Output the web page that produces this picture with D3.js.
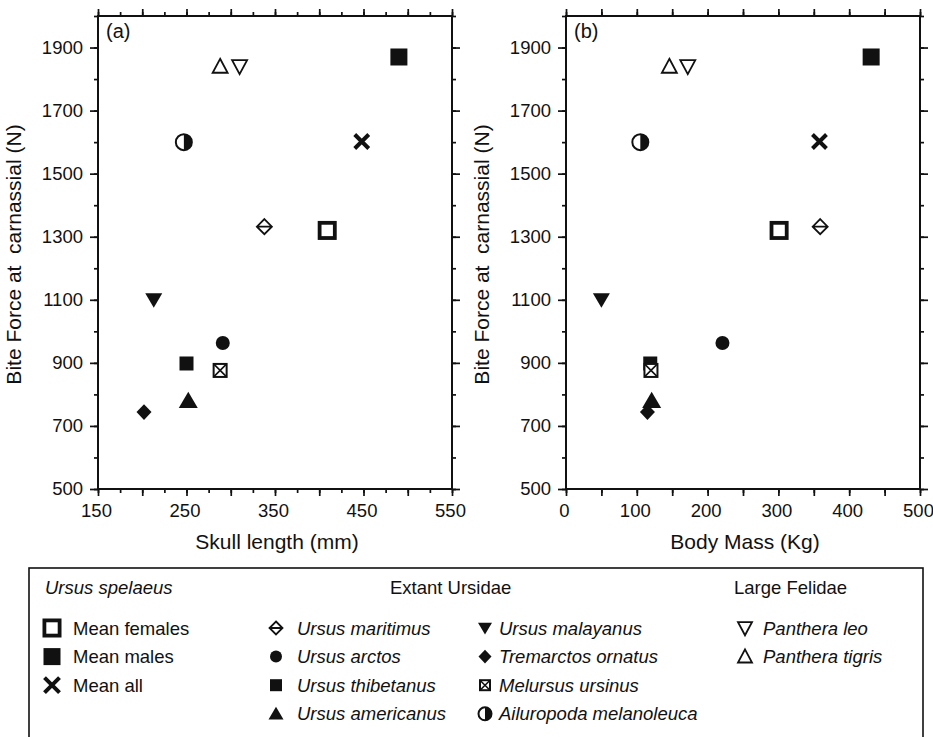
<!DOCTYPE html>
<html>
<head>
<meta charset="utf-8">
<script src="https://cdn.jsdelivr.net/npm/d3@7"></script>
<style>
  body { margin: 0; background: #fff; }
  svg { font-family: "Liberation Sans", Arial, sans-serif; }
</style>
</head>
<body>
<svg width="933" height="737"></svg>
<script>
// data
const species = ['Mean females', 'Mean males', 'Mean all',
  'Ursus maritimus', 'Ursus arctos', 'Ursus thibetanus', 'Ursus americanus',
  'Ursus malayanus', 'Tremarctos ornatus', 'Melursus ursinus', 'Ailuropoda melanoleuca',
  'Panthera leo', 'Panthera tigris'];
const skullLength = [409, 490, 448, 338, 291, 250, 252, 213, 202, 288, 247, 310, 288];
const bodyMass = [301, 431, 358, 359, 221, 119, 121, 50, 115, 120, 105, 172, 146];
const biteForce = [1320, 1870, 1602, 1332, 963, 898, 780, 1100, 744, 876, 1600, 1840, 1840];

const yTickLabels = [500, 700, 900, 1100, 1300, 1500, 1700, 1900];
const skullTickLabels = [150, 250, 350, 450, 550];
const massTickLabels = [0, 100, 200, 300, 400, 500];

const legendHeaders = ['Ursus spelaeus', 'Extant Ursidae', 'Large Felidae'];

// symbol for each species
const symbolOf = {
  'Mean females': 'openSquare', 'Mean males': 'square', 'Mean all': 'cross',
  'Ursus maritimus': 'diamondLine', 'Ursus arctos': 'circle', 'Ursus thibetanus': 'square',
  'Ursus americanus': 'triangle', 'Ursus malayanus': 'triangleDown', 'Tremarctos ornatus': 'diamond',
  'Melursus ursinus': 'boxX', 'Ailuropoda melanoleuca': 'halfCircle',
  'Panthera leo': 'openTriangleDown', 'Panthera tigris': 'openTriangle'
};
const plotSize = {
  'Mean females': 19, 'Mean males': 17, 'Mean all': 14, 'Ursus maritimus': 15, 'Ursus arctos': 14,
  'Ursus thibetanus': 14, 'Ursus americanus': 19, 'Ursus malayanus': 17, 'Tremarctos ornatus': 15,
  'Melursus ursinus': 15, 'Ailuropoda melanoleuca': 18, 'Panthera leo': 17, 'Panthera tigris': 17
};

const INK = '#111';
const svg = d3.select('svg');

function marker(g, kind, s) {
  const h = s / 2;
  if (kind === 'openSquare') {
    g.append('rect').attr('x', -h + 1.9).attr('y', -h + 1.9).attr('width', s - 3.8).attr('height', s - 3.8)
      .attr('fill', '#fff').attr('stroke', INK).attr('stroke-width', 3.8);
  } else if (kind === 'square') {
    g.append('rect').attr('x', -h).attr('y', -h).attr('width', s).attr('height', s).attr('fill', INK);
  } else if (kind === 'cross') {
    g.append('path').attr('d', `M${-h},${-h}L${h},${h}M${-h},${h}L${h},${-h}`)
      .attr('stroke', INK).attr('stroke-width', 4);
  } else if (kind === 'diamondLine') {
    g.append('path').attr('d', `M0,${-h}L${h},0L0,${h}L${-h},0Z M${-h},0L${h},0`)
      .attr('fill', '#fff').attr('stroke', INK).attr('stroke-width', 1.8);
  } else if (kind === 'circle') {
    g.append('circle').attr('r', h).attr('fill', INK);
  } else if (kind === 'triangle') {
    const t = s * 0.85;
    g.append('path').attr('d', `M0,${-t * 0.55}L${h},${t * 0.45}L${-h},${t * 0.45}Z`).attr('fill', INK);
  } else if (kind === 'triangleDown') {
    const t = s * 0.85;
    g.append('path').attr('d', `M0,${t * 0.55}L${h},${-t * 0.45}L${-h},${-t * 0.45}Z`).attr('fill', INK);
  } else if (kind === 'diamond') {
    g.append('path').attr('d', `M0,${-h * 1.05}L${h},0L0,${h * 1.05}L${-h},0Z`).attr('fill', INK);
  } else if (kind === 'boxX') {
    const k = h - 1;
    g.append('rect').attr('x', -k).attr('y', -k).attr('width', 2 * k).attr('height', 2 * k)
      .attr('fill', '#fff').attr('stroke', INK).attr('stroke-width', 2);
    g.append('path').attr('d', `M${-k},${-k}L${k},${k}M${-k},${k}L${k},${-k}`)
      .attr('stroke', INK).attr('stroke-width', 1.6);
  } else if (kind === 'halfCircle') {
    const r = h - 1;
    g.append('circle').attr('r', r).attr('fill', '#fff').attr('stroke', INK).attr('stroke-width', 2);
    g.append('path').attr('d', `M0,${-r}A${r},${r} 0 0 1 0,${r}Z`).attr('fill', INK);
  } else if (kind === 'openTriangle' || kind === 'openTriangleDown') {
    const t = s * 0.82, d = kind === 'openTriangle' ? 1 : -1;
    g.append('path')
      .attr('d', `M0,${-d * t * 0.55}L${h - 1},${d * t * 0.45}L${-h + 1},${d * t * 0.45}Z`)
      .attr('fill', '#fff').attr('stroke', INK).attr('stroke-width', 1.8).attr('stroke-linejoin', 'miter');
  }
}

const TOP = 16, BOTTOM = 489;
const y = d3.scaleLinear().domain([500, 2000]).range([BOTTOM, TOP]);
const yMinor = d3.range(500, 2001, 100);

const panels = [
  { tag: '(a)', left: 98, right: 452, domain: [150, 550], xs: skullLength,
    labels: skullTickLabels, major: d3.range(150, 551, 50), minor: d3.range(150, 551, 25),
    title: 'Skull length (mm)', yTitleX: 21 },
  { tag: '(b)', left: 566, right: 920, domain: [0, 500], xs: bodyMass,
    labels: massTickLabels, major: d3.range(0, 501, 50), minor: d3.range(0, 501, 50),
    title: 'Body Mass (Kg)', yTitleX: 489 }
];

panels.forEach(p => {
  const x = d3.scaleLinear().domain(p.domain).range([p.left, p.right]);
  const g = svg.append('g');

  function axis(gen, values, size, tx, ty, labels) {
    const a = g.append('g').attr('transform', `translate(${tx},${ty})`)
      .call(gen.tickValues(values).tickSize(size).tickSizeOuter(0)
        .tickFormat(labels ? d => (labels.includes(d) ? d : '') : ''));
    a.select('.domain').remove();
    a.selectAll('line').attr('stroke', INK).attr('stroke-width', 1.7);
    a.selectAll('text').attr('fill', INK).style('font-size', '18.5px')
      .style('font-family', '"Liberation Sans", Arial, sans-serif');
    return a;
  }
  // bottom and top
  axis(d3.axisBottom(x), p.minor, 4, 0, BOTTOM);
  axis(d3.axisBottom(x), p.major, 7, 0, BOTTOM, p.labels).selectAll('text')
    .attr('dy', '0.95em').attr('dx', -2);
  axis(d3.axisTop(x), p.minor, 4, 0, TOP);
  axis(d3.axisTop(x), p.major, 7, 0, TOP);
  // left and right
  axis(d3.axisLeft(y), yMinor, 4, p.left, 0);
  axis(d3.axisLeft(y), yTickLabels, 8, p.left, 0, yTickLabels).selectAll('text').attr('x', -15);
  axis(d3.axisRight(y), yMinor, 4, p.right, 0);
  axis(d3.axisRight(y), yTickLabels, 8, p.right, 0);

  g.append('rect').attr('x', p.left).attr('y', TOP).attr('width', p.right - p.left)
    .attr('height', BOTTOM - TOP).attr('fill', 'none').attr('stroke', INK).attr('stroke-width', 2);

  g.append('text').attr('x', p.left + 8).attr('y', TOP + 22).attr('fill', INK)
    .style('font-size', '20px').text(p.tag);

  g.append('text').attr('x', (p.left + p.right) / 2 + 2).attr('y', 549).attr('text-anchor', 'middle')
    .attr('fill', INK).style('font-size', '21px').text(p.title);

  g.append('text').attr('transform', `translate(${p.yTitleX},${(TOP + BOTTOM) / 2 + 2}) rotate(-90)`)
    .attr('text-anchor', 'middle').attr('fill', INK).style('font-size', '21px')
    .style('white-space', 'pre').text('Bite Force at  carnassial (N)');

  species.forEach((name, i) => {
    const m = g.append('g').attr('transform', `translate(${x(p.xs[i])},${y(biteForce[i])})`);
    marker(m, symbolOf[name], plotSize[name]);
  });
});

// legend
const lg = svg.append('g');
lg.append('rect').attr('x', 29).attr('y', 568).attr('width', 894).attr('height', 200)
  .attr('fill', 'none').attr('stroke', INK).attr('stroke-width', 1.6);

const headerX = [45, 390, 734];
legendHeaders.forEach((h, i) => {
  lg.append('text').attr('x', headerX[i]).attr('y', 594).attr('fill', INK)
    .style('font-size', '18.5px').style('font-style', i === 0 ? 'italic' : 'normal').text(h);
});

const legendCols = [
  { names: species.slice(0, 3), mx: 52, tx: 73, italic: false, sizes: [19, 17, 15] },
  { names: species.slice(3, 7), mx: 276, tx: 297, italic: true, sizes: [13, 12, 12, 15] },
  { names: species.slice(7, 11), mx: 485, tx: 499, italic: true, sizes: [14, 13, 12, 15] },
  { names: species.slice(11, 13), mx: 745, tx: 763, italic: true, sizes: [16, 16] }
];
legendCols.forEach(c => {
  c.names.forEach((name, j) => {
    const cy = 628 + j * 28.6;
    marker(lg.append('g').attr('transform', `translate(${c.mx},${cy})`), symbolOf[name], c.sizes[j]);
    lg.append('text').attr('x', c.tx).attr('y', cy + 6.5).attr('fill', INK)
      .style('font-size', '18.5px').style('font-style', c.italic ? 'italic' : 'normal').text(name);
  });
});
</script>
</body>
</html>
